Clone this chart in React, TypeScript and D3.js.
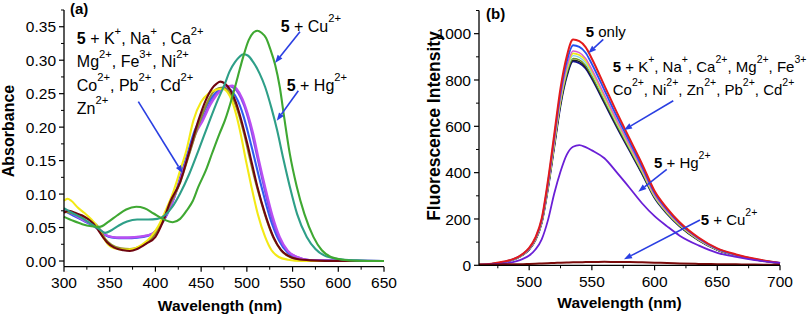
import React from 'react';
import * as d3 from 'd3';

type Pt = [number, number];

// ---------- Panel (a): absorbance ----------
const aXTicks = [300, 350, 400, 450, 500, 550, 600, 650];
const aXMinor = [325, 375, 425, 475, 525, 575, 625];
const aYTicks = [0, 0.05, 0.1, 0.15, 0.2, 0.25, 0.3, 0.35];
const aYMinor = [0.025, 0.075, 0.125, 0.175, 0.225, 0.275, 0.325, 0.375];

const absCu: Pt[] = [[300,.066],[310,.06],[320,.055],[330,.052],[339,.051],[348,.058],[358,.068],[368,.077],[379,.081],[388,.079],[398,.071],[408,.063],[419,.058],[427,.063],[435,.077],[441,.09],[447,.111],[455,.135],[462,.161],[470,.19],[476,.21],[484,.245],[490,.275],[496,.305],[502,.33],[507,.341],[511.5,.344],[516,.341],[521,.333],[526,.315],[531,.293],[536,.26],[541,.213],[547,.16],[554.6,.111],[563,.07],[572.8,.036],[582,.016],[592,.006],[605,.002],[620,.0005],[650,0]];
const absHg: Pt[] = [[300,.079],[310,.071],[320,.064],[330,.055],[338,.048],[345,.042],[352,.046],[360,.053],[369,.059],[380,.062],[392,.062],[402,.063],[410,.068],[418,.08],[427,.101],[437,.13],[447,.165],[458,.205],[468,.24],[476,.265],[481,.283],[487,.297],[492,.305],[496,.309],[501,.307],[507,.297],[514,.28],[520,.26],[527,.228],[533,.196],[540,.152],[547,.111],[555,.07],[565.5,.036],[575,.018],[585,.008],[600,.003],[620,.001],[650,0]];
const absMaroon: Pt[] = [[300,.072],[305,.075],[312,.072],[320,.068],[327,.062],[332,.056],[338,.045],[343,.035],[347,.028],[355,.02],[365,.016],[372,.015],[380,.018],[390,.026],[400,.036],[408,.058],[416,.088],[427,.118],[437,.163],[447,.21],[455,.24],[462,.258],[467,.265],[471,.268],[476,.265],[482,.255],[488,.237],[494,.21],[500,.178],[506,.143],[511.5,.111],[520,.07],[529,.036],[537,.017],[545,.008],[555,.003],[570,.001],[600,0],[650,0]];
const absYellow: Pt[] = [[300,.09],[304,.093],[308,.09],[315,.08],[322,.072],[330,.062],[337,.05],[343,.035],[348,.025],[355,.019],[365,.017],[375,.018],[385,.024],[395,.036],[403,.052],[412,.078],[420,.105],[427,.135],[434,.166],[441.5,.21],[450,.238],[458,.25],[465,.255],[470,.257],[474,.257],[479,.252],[484,.238],[489,.215],[494,.185],[499,.15],[505,.111],[512,.07],[520,.036],[527,.016],[535,.006],[545,.002],[560,0],[650,0]];
const absOlive: Pt[] = [[300,.074],[310,.071],[320,.066],[330,.06],[338,.05],[345,.033],[352,.024],[362,.019],[372,.018],[382,.021],[392,.029],[400,.041],[408,.06],[416,.085],[427,.117],[437,.16],[447,.203],[456,.235],[463,.252],[469,.258],[474,.259],[479,.255],[485,.242],[491,.22],[497,.19],[503,.155],[509,.121],[514,.096],[522,.06],[530,.032],[538,.015],[547,.006],[558,.002],[575,0],[650,0]];
const absBlue: Pt[] = [[300,.075],[310,.068],[320,.061],[330,.054],[340,.045],[346,.038],[352,.035],[360,.034],[370,.034],[380,.035],[390,.037],[397,.041],[405,.052],[412,.068],[420,.093],[427,.125],[435,.16],[443,.195],[450,.215],[458,.237],[465,.25],[472,.257],[478,.258],[484,.253],[490,.24],[496,.218],[502,.188],[508,.155],[516,.111],[525,.066],[535,.031],[545,.012],[555,.005],[570,.001],[650,0]];
const absViolet: Pt[] = [[300,.077],[310,.07],[320,.062],[330,.055],[340,.046],[347,.038],[353,.036],[362,.035],[372,.035],[382,.036],[391,.038],[398,.042],[406,.054],[413,.07],[421,.096],[428,.126],[436,.16],[444,.193],[452,.214],[460,.236],[467,.25],[474,.258],[480,.261],[485,.259],[491,.25],[497,.232],[503,.205],[509,.17],[518,.115],[526,.07],[535,.035],[545,.014],[555,.006],[570,.001],[650,0]];
const absPurple: Pt[] = [[300,.078],[310,.07],[320,.062],[330,.055],[340,.046],[346,.039],[352,.036],[360,.035],[370,.035],[380,.036],[390,.038],[398,.042],[406,.055],[413,.072],[421,.097],[428,.125],[436,.157],[444,.19],[452,.21],[460,.233],[467,.248],[474,.257],[480,.261],[484,.262],[489,.257],[495,.243],[501,.22],[507,.19],[513,.152],[520,.111],[528,.068],[536,.036],[545,.015],[555,.006],[570,.001],[650,0]];

const absSeries: { data: Pt[]; color: string }[] = [
  { data: absBlue, color: '#2f5cf0' },
  { data: absViolet, color: '#8150ea' },
  { data: absPurple, color: '#bb4ff2' },
  { data: absOlive, color: '#8f8f2c' },
  { data: absYellow, color: '#f3e915' },
  { data: absMaroon, color: '#6e0510' },
  { data: absHg, color: '#2e9f88' },
  { data: absCu, color: '#3fa832' },
];

// ---------- Panel (b): fluorescence ----------
const bXTicks = [500, 550, 600, 650, 700];
const bXMinor = [475, 525, 575, 625, 675];
const bYTicks = [0, 200, 400, 600, 800, 1000];
const bYMinor = [100, 300, 500, 700, 900, 1100];

const wlB = [460,470,480,490,495,500,505,510,515,520,525,530,535,540,545,550,560,570,580,590,600,610,620,635,650,665,680,700];
const flOnly =   [3,7,16,33,50,75,120,202,366,565,765,903,975,968,942,892,776,659,548,438,321,246,186,120,73,47,28,10];
const flBlue =   [3,6,15,32,49,73,117,196,356,551,745,880,950,943,918,869,756,642,534,426,313,240,181,117,71,45,27,10];
const flMagenta =[3,6,15,32,47,71,114,191,347,536,725,857,925,918,893,846,736,625,520,415,305,233,177,114,69,44,26,9];
const flYellow = [3,6,15,31,47,71,112,189,343,530,718,848,915,908,884,837,728,619,515,411,302,231,175,112,69,44,26,9];
const flCyan =   [3,6,14,31,46,70,111,187,339,524,709,838,905,898,874,828,720,612,509,406,298,228,173,111,68,43,26,9];
const flOlive =  [3,6,14,30,46,69,110,185,335,518,700,827,893,887,863,817,711,604,502,401,294,225,171,110,67,43,25,9];
const flBlack =  [3,6,14,30,45,68,109,183,332,513,694,820,885,879,855,810,704,598,498,397,292,223,169,109,66,42,25,9];
const flNavy =   [3,6,14,30,45,68,108,182,330,510,690,815,880,872,850,805,700,595,495,395,290,222,168,108,66,42,25,9];
const flHg =     [2,4,8,18,28,42,68,112,195,310,405,478,512,519,510,496,462,400,335,268,212,168,128,86,54,36,22,10];
const flCu =     [2,3,4,5,5,6,7,8,9,10,11,12,13,13,14,14,15,14,14,13,11,10,8,6,5,4,3,2];

const flSeries: { data: number[]; color: string; w: number }[] = [
  { data: flNavy, color: '#101090', w: 1.8 },
  { data: flBlack, color: '#202020', w: 1.4 },
  { data: flOlive, color: '#6f9a1c', w: 1.4 },
  { data: flCyan, color: '#7fd3ef', w: 1.4 },
  { data: flYellow, color: '#ece81a', w: 1.8 },
  { data: flMagenta, color: '#d65ad6', w: 1.4 },
  { data: flBlue, color: '#2350f0', w: 1.8 },
  { data: flOnly, color: '#e41b1b', w: 2 },
  { data: flHg, color: '#6a1fd6', w: 1.8 },
  { data: flCu, color: '#7a0a0a', w: 2 },
];

// ---------- geometry ----------
const FONT = '"Liberation Sans", Arial, Helvetica, sans-serif';
const ARROW = '#2a3fe2';

const ax = d3.scaleLinear().domain([300, 650]).range([64, 384]);
const ay = d3.scaleLinear().domain([-0.0085, 0.375]).range([266.7, 10]);
const bx = d3.scaleLinear().domain([460, 700]).range([479, 780]);
const by = d3.scaleLinear().domain([0, 1100]).range([265.3, 10.5]);

type Seg = { t: string; bold: boolean; sup: boolean };
function parseRich(s: string): Seg[] {
  const out: Seg[] = [];
  let i = 0, bold = false, buf = '';
  const push = (t: string, sup: boolean) => { if (t) out.push({ t, bold, sup }); };
  while (i < s.length) {
    if (s.startsWith('**', i)) { push(buf, false); buf = ''; bold = !bold; i += 2; }
    else if (s[i] === '^' && s[i + 1] === '{') { push(buf, false); buf = ''; const j = s.indexOf('}', i); push(s.slice(i + 2, j), true); i = j + 1; }
    else { buf += s[i]; i++; }
  }
  push(buf, false);
  return out;
}

function Rich({ x, y, s, size = 15 }: { x: number; y: number; s: string; size?: number }) {
  const segs = parseRich(s);
  const raise = size * 0.6;
  return (
    <text x={x} y={y} fontSize={size} fontFamily={FONT} fill="#000" style={{ whiteSpace: 'pre' }}>
      {segs.map((sg, k) => {
        const prevSup = k > 0 && segs[k - 1].sup;
        let dy: number | undefined;
        if (sg.sup && !prevSup) dy = -raise;
        else if (!sg.sup && prevSup) dy = raise;
        return (
          <tspan key={k} dy={dy} fontWeight={sg.bold ? 'bold' : undefined} fontSize={sg.sup ? size * 0.7 : undefined}>
            {sg.t}
          </tspan>
        );
      })}
    </text>
  );
}

function Arrow({ x1, y1, x2, y2 }: { x1: number; y1: number; x2: number; y2: number }) {
  const ang = Math.atan2(y2 - y1, x2 - x1);
  const L = 8, Wd = 3;
  const bxp = x2 - L * Math.cos(ang), byp = y2 - L * Math.sin(ang);
  const p1 = [bxp + Wd * Math.sin(ang), byp - Wd * Math.cos(ang)];
  const p2 = [bxp - Wd * Math.sin(ang), byp + Wd * Math.cos(ang)];
  return (
    <g>
      <line x1={x1} y1={y1} x2={bxp} y2={byp} stroke={ARROW} strokeWidth={1.6} />
      <path d={`M${x2},${y2}L${p1[0]},${p1[1]}L${p2[0]},${p2[1]}Z`} fill={ARROW} />
    </g>
  );
}

function Axes({ sx, sy, xt, xm, yt, ym, fmtY, fmtX }: any) {
  const [x0, x1] = sx.range();
  const [y0, y1] = sy.range();
  return (
    <g fontFamily={FONT} fontSize={15.5} fill="#000">
      <line x1={x0} y1={y0} x2={x1} y2={y0} stroke="#000" strokeWidth={1.3} />
      <line x1={x0} y1={y0} x2={x0} y2={y1} stroke="#000" strokeWidth={1.3} />
      {xt.map((v: number) => (
        <g key={'xt' + v}>
          <line x1={sx(v)} x2={sx(v)} y1={y0} y2={y0 + 5} stroke="#000" strokeWidth={1.2} />
          <text x={sx(v)} y={y0 + 21.5} textAnchor="middle">{fmtX(v)}</text>
        </g>
      ))}
      {xm.map((v: number) => (
        <line key={'xm' + v} x1={sx(v)} x2={sx(v)} y1={y0} y2={y0 + 3} stroke="#000" strokeWidth={1} />
      ))}
      {yt.map((v: number) => (
        <g key={'yt' + v}>
          <line x1={x0 - 5} x2={x0} y1={sy(v)} y2={sy(v)} stroke="#000" strokeWidth={1.2} />
          <text x={x0 - 8} y={sy(v)} dy="0.36em" textAnchor="end">{fmtY(v)}</text>
        </g>
      ))}
      {ym.map((v: number) => (
        <line key={'ym' + v} x1={x0 - 3} x2={x0} y1={sy(v)} y2={sy(v)} stroke="#000" strokeWidth={1} />
      ))}
    </g>
  );
}

export default function App() {
  const lineA = d3.line<Pt>().x((d) => ax(d[0])).y((d) => ay(d[1])).curve(d3.curveMonotoneX);
  const lineB = d3.line<number>().x((_, i) => bx(wlB[i])).y((d) => by(d)).curve(d3.curveMonotoneX);
  const fA = d3.format('.2f');
  const fB = d3.format('d');

  return (
    <svg width={810} height={319} style={{ position: 'absolute', left: 0, top: 0, background: '#fff' }}>
      <rect width={810} height={319} fill="#fff" />
      {/* Panel a */}
      <g>
        {absSeries.map((s, i) => (
          <path key={i} d={lineA(s.data) || ''} fill="none" stroke={s.color} strokeWidth={2.1} strokeLinejoin="round" />
        ))}
        <Axes sx={ax} sy={ay} xt={aXTicks} xm={aXMinor} yt={aYTicks} ym={aYMinor} fmtY={fA} fmtX={fB} />
        <text x={(ax(300) + ax(650)) / 2 - 4} y={311} textAnchor="middle" fontFamily={FONT} fontWeight="bold" fontSize={15.5}>Wavelength (nm)</text>
        <text transform={`translate(13.5,131) rotate(-90)`} textAnchor="middle" fontFamily={FONT} fontWeight="bold" fontSize={16}>Absorbance</text>
        <text x={ax(306.6)} y={ay(0.369)} fontFamily={FONT} fontWeight="bold" fontSize={15}>(a)</text>
        <Rich size={16} x={ax(314)} y={ay(0.3237)} s={'**5** + K^{+}, Na^{+} , Ca^{2+}'} />
        <Rich size={16} x={ax(314)} y={ay(0.2894)} s={'Mg^{2+}, Fe^{3+}, Ni^{2+}'} />
        <Rich size={16} x={ax(314)} y={ay(0.2547)} s={'Co^{2+}, Pb^{2+}, Cd^{2+}'} />
        <Rich size={16} x={ax(314)} y={ay(0.22)} s={'Zn^{2+}'} />
        <Rich size={16} x={ax(537)} y={ay(0.3425)} s={'**5** + Cu^{2+}'} />
        <Rich size={16} x={ax(543.6)} y={ay(0.2544)} s={'**5** + Hg^{2+}'} />
        <Arrow x1={ax(381.3)} y1={ay(0.238)} x2={ax(429.8)} y2={ay(0.131)} />
        <Arrow x1={ax(558.1)} y1={ay(0.3425)} x2={ax(530.8)} y2={ay(0.296)} />
        <Arrow x1={ax(556.3)} y1={ay(0.2544)} x2={ax(532.7)} y2={ay(0.2096)} />
      </g>
      {/* Panel b */}
      <g>
        {flSeries.map((s, i) => (
          <path key={i} d={lineB(s.data) || ''} fill="none" stroke={s.color} strokeWidth={s.w} strokeLinejoin="round" />
        ))}
        <Axes sx={bx} sy={by} xt={bXTicks} xm={bXMinor} yt={bYTicks} ym={bYMinor} fmtY={fB} fmtX={fB} />
        <text x={(bx(460) + bx(700)) / 2 - 10} y={308} textAnchor="middle" fontFamily={FONT} fontWeight="bold" fontSize={15.5}>Wavelength (nm)</text>
        <text transform={`translate(440,126) rotate(-90)`} textAnchor="middle" fontFamily={FONT} fontWeight="bold" fontSize={17.5}>Fluorescence Intensity</text>
        <text x={bx(465.6)} y={by(1063)} fontFamily={FONT} fontWeight="bold" fontSize={15}>(b)</text>
        <Rich x={bx(545.1)} y={by(987)} s={'**5** only'} />
        <Rich x={bx(566.6)} y={by(835.8)} s={'**5** + K^{+}, Na^{+}, Ca^{2+}, Mg^{2+}, Fe^{3+}'} />
        <Rich x={bx(566.6)} y={by(735.2)} s={'Co^{2+}, Ni^{2+}, Zn^{2+}, Pb^{2+}, Cd^{2+}'} />
        <Rich x={bx(599.5)} y={by(418.8)} s={'**5** + Hg^{2+}'} />
        <Rich x={bx(636.8)} y={by(174)} s={'**5** + Cu^{2+}'} />
        <Arrow x1={bx(559.1)} y1={by(975.6)} x2={bx(547.1)} y2={by(915.2)} />
        <Arrow x1={bx(614.9)} y1={by(710.6)} x2={bx(575.6)} y2={by(584.1)} />
        <Arrow x1={bx(609.7)} y1={by(414.4)} x2={bx(587.0)} y2={by(317.7)} />
        <Arrow x1={bx(636.2)} y1={by(195.6)} x2={bx(575.6)} y2={by(25.9)} />
      </g>
    </svg>
  );
}
